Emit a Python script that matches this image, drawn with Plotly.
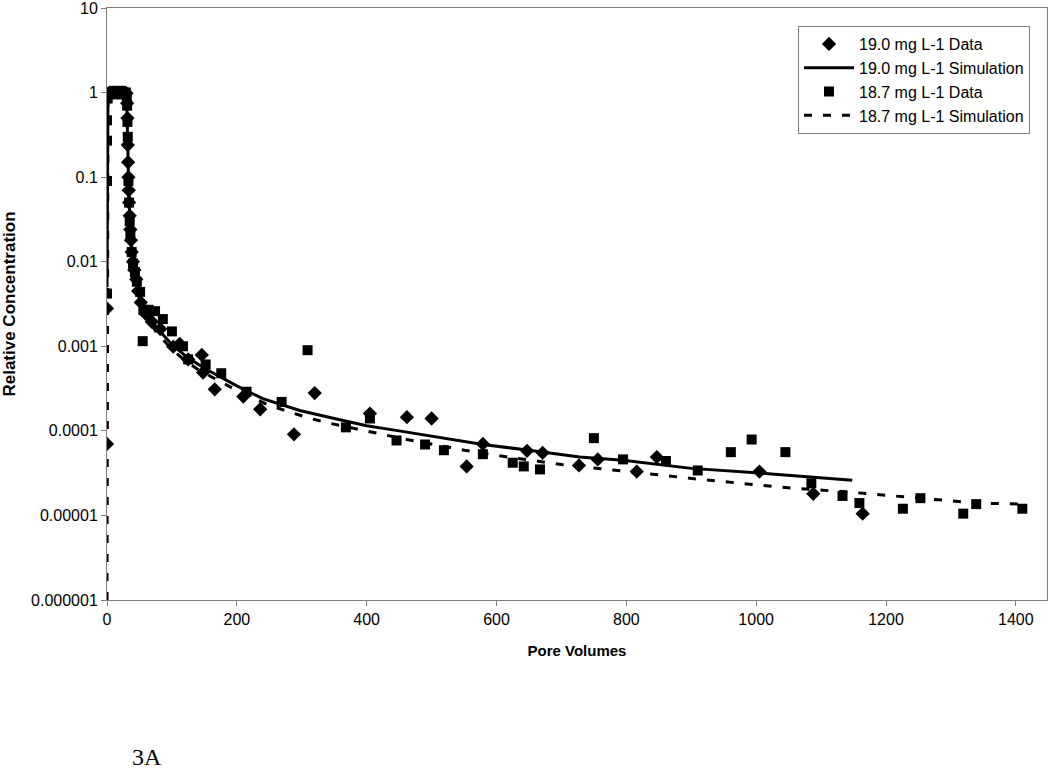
import plotly.graph_objects as go

# 19.0 mg L-1 data (diamonds)
pv_190 = [0, 0, 1, 2, 4, 6, 8, 10, 12, 14, 16, 18, 20, 22, 24, 26, 28, 30,
          31, 31.5, 32, 32.5, 33, 33.5, 34, 35, 36, 37, 38, 40, 42, 45, 48, 52,
          60, 69, 82, 102, 112, 125, 146, 148, 166, 210, 236, 288, 320, 405,
          462, 500, 554, 579, 647, 671, 727, 756, 816, 847, 1005, 1088, 1164]
c_190 = [0.0028, 0.00007, 0.9, 0.97, 1.0, 1.0, 1.0, 1.0, 1.0, 1.0, 1.0, 1.0, 1.0, 1.0, 1.0, 1.0, 1.0, 0.98,
         0.75, 0.5, 0.24, 0.15, 0.1, 0.07, 0.05, 0.035, 0.024, 0.018, 0.013, 0.01, 0.008, 0.0062, 0.0045, 0.0033,
         0.0024, 0.00195, 0.0016, 0.00099, 0.00107, 0.0007, 0.00079, 0.00049, 0.00031, 0.000255, 0.00018, 0.000091, 0.00028, 0.00016,
         0.000145, 0.00014, 0.000038, 0.00007, 0.000058, 0.000055, 0.000039, 0.000046, 0.000033, 0.000049, 0.000033, 0.000018, 0.0000105]

# 18.7 mg L-1 data (squares)
pv_187 = [0, 0, 0, 0, 1, 2, 3, 5, 7, 9, 11, 13, 15, 17, 19, 21, 23, 25, 27, 29,
          30.5, 31, 31.5, 32, 33, 34, 35, 36, 38, 40, 43, 46, 51, 55, 56, 64,
          74, 86, 100, 117, 125, 152, 176, 215, 269, 309, 368, 405, 446, 490,
          519, 579, 625, 642, 667, 750, 795, 861, 910, 961, 993, 1045, 1085,
          1133, 1159, 1226, 1253, 1319, 1339, 1410]
c_187 = [0.0042, 0.09, 0.27, 0.47, 0.85, 0.95, 1.0, 1.0, 1.0, 1.0, 1.0, 1.0, 1.0, 1.0, 1.0, 1.0, 1.0, 1.0, 1.0, 1.0,
         0.9, 0.7, 0.45, 0.3, 0.09, 0.05, 0.03, 0.02, 0.013, 0.0095, 0.0075, 0.0058, 0.0044, 0.00115, 0.0027, 0.0027,
         0.0026, 0.0021, 0.0015, 0.001, 0.0007, 0.00061, 0.00048, 0.00029, 0.00022, 0.0009, 0.00011, 0.00014, 0.000077, 0.000069,
         0.000059, 0.000053, 0.000042, 0.000038, 0.000035, 0.000082, 0.000046, 0.000044, 0.000034, 0.000056, 0.000079, 0.000056, 0.000024,
         0.000017, 0.000014, 0.000012, 0.000016, 0.0000105, 0.0000136, 0.000012]

# 19.0 mg L-1 simulation (solid)
sim_pv_190 = [0, 0.3, 0.6, 1, 1.5, 2, 3, 5, 10, 20, 28, 30, 31, 32, 33, 34, 35, 36, 38, 40,
              45, 50, 56, 65, 75, 86, 100, 120, 139, 160, 200, 240, 297, 350, 400, 450,
              500, 579, 650, 728, 795, 900, 1000, 1100, 1148]
sim_c_190 = [0.005, 0.05, 0.3, 0.7, 0.9, 0.97, 0.99, 1.0, 1.0, 1.0, 1.0, 0.95, 0.6, 0.25, 0.1, 0.05, 0.03, 0.02, 0.013, 0.0095,
             0.0062, 0.0043, 0.0031, 0.0022, 0.0017, 0.00137, 0.00105, 0.00078, 0.00062, 0.0005, 0.00034, 0.00024, 0.000174, 0.00014, 0.000115, 0.0001,
             0.000087, 0.000069, 0.000059, 0.000049, 0.000045, 0.000036, 0.000032, 0.000028, 0.000026]

# 18.7 mg L-1 simulation (dashed)
sim_pv_187 = [0, 0.3, 0.6, 1, 1.5, 2, 3, 5, 10, 20, 28, 30, 31, 32, 33, 34, 35, 36, 38, 40,
              45, 50, 56, 65, 75, 86, 100, 120, 139, 160, 200, 250, 313, 343, 402, 462,
              551, 610, 700, 754, 800, 908, 1000, 1056, 1139, 1250, 1340, 1410]
sim_c_187 = [0.000001, 0.03, 0.25, 0.65, 0.88, 0.96, 0.99, 1.0, 1.0, 1.0, 1.0, 0.93, 0.55, 0.22, 0.09, 0.045, 0.028, 0.019, 0.012, 0.009,
             0.0058, 0.004, 0.0029, 0.002, 0.0015, 0.0012, 0.00092, 0.00068, 0.00054, 0.00044, 0.0003, 0.0002, 0.00014, 0.000123, 0.000099, 0.000079,
             0.000059, 0.00005, 0.00004, 0.000036, 0.000033, 0.000027, 0.000023, 0.000021, 0.000019, 0.000016, 0.000014, 0.0000136]

y_ticks = [10, 1, 0.1, 0.01, 0.001, 0.0001, 0.00001, 0.000001]
y_ticktext = ["10", "1", "0.1", "0.01", "0.001", "0.0001", "0.00001", "0.000001"]
x_ticks = [0, 200, 400, 600, 800, 1000, 1200, 1400]

FONT = "Liberation Sans, Arial"

fig = go.Figure()
fig.add_trace(go.Scatter(x=pv_190, y=c_190, mode="markers", name="19.0 mg L-1 Data",
                         marker=dict(symbol="diamond", size=11, color="black")))
fig.add_trace(go.Scatter(x=sim_pv_190, y=sim_c_190, mode="lines", name="19.0 mg L-1 Simulation",
                         line=dict(color="black", width=3)))
fig.add_trace(go.Scatter(x=pv_187, y=c_187, mode="markers", name="18.7 mg L-1 Data",
                         marker=dict(symbol="square", size=10, color="black")))
fig.add_trace(go.Scatter(x=sim_pv_187, y=sim_c_187, mode="lines", name="18.7 mg L-1 Simulation",
                         line=dict(color="black", width=3, dash="8px,11px")))

axis_common = dict(showline=True, linecolor="#808080", linewidth=1, mirror=True,
                   showgrid=False, zeroline=False, ticks="outside", tickcolor="#808080",
                   ticklen=5, automargin=False, ticklabeloverflow="allow",
                   tickfont=dict(family=FONT, size=16, color="black"))

fig.update_xaxes(range=[0, 1448], tickvals=x_ticks,
                 title=dict(text="<b>Pore Volumes</b>", font=dict(family=FONT, size=15, color="black"), standoff=18),
                 **axis_common)
fig.update_yaxes(type="log", range=[-6, 1], tickvals=y_ticks, ticktext=y_ticktext,
                 title=dict(text="<b>Relative Concentration</b>", font=dict(family=FONT, size=17, color="black"), standoff=14),
                 **axis_common)

fig.update_layout(
    width=1050, height=771,
    paper_bgcolor="white", plot_bgcolor="white",
    margin=dict(l=107, r=3, t=8, b=171),
    legend=dict(x=(798 - 107) / 940, y=(600 - 26) / 592, xanchor="left", yanchor="top",
                bordercolor="#808080", borderwidth=1, bgcolor="white",
                font=dict(family=FONT, size=16, color="black"),
                itemwidth=50, tracegroupgap=0),
    annotations=[dict(text="3A", x=(130 - 107) / 940, y=-(757 - 600) / 592,
                      xref="paper", yref="paper", xanchor="left", yanchor="middle",
                      showarrow=False,
                      font=dict(family="Liberation Serif, Times New Roman", size=24, color="black"))],
)

fig.write_html("out.html", config={"displayModeBar": False},
               post_script="document.body.style.margin='0px';")
